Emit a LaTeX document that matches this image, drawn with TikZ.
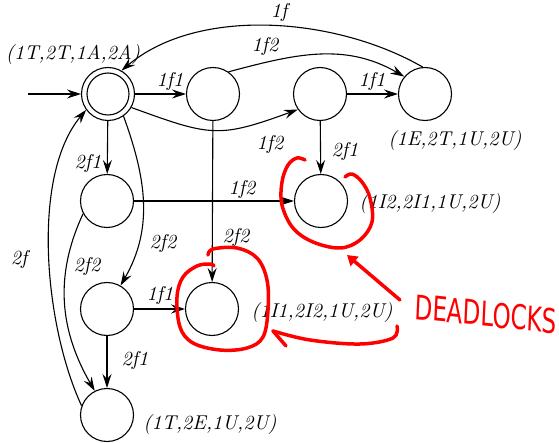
\documentclass[tikz,border=0pt]{standalone}
\usepackage{fontspec}
\newfontfamily\handfont{DejaVu Sans}
\usetikzlibrary{arrows.meta}
\begin{document}
\begin{tikzpicture}[x=1pt,y=1pt,
  st/.style={circle,draw,line width=1.1pt,minimum size=53pt,inner sep=0pt},
  edge/.style={line width=1.1pt,-{Stealth[length=14pt,width=9pt,inset=5pt]}},
  lbl/.style={font=\fontsize{10}{12}\selectfont\itshape,scale=2,inner sep=0pt},
  ink/.style={red,line width=3.5pt,line cap=round,line join=round}]
\useasboundingbox (0,0) rectangle (559,442);

% states
\node[st] (s0) at (108,348) {};
\draw[line width=1.1pt] (s0.center) circle[radius=21pt];
\node[st] (a) at (213,348) {};
\node[st] (b) at (320,348) {};
\node[st] (c) at (425,348) {};
\node[st] (e) at (107,241) {};
\node[st] (d) at (321,241) {};
\node[st] (f) at (107,133) {};
\node[st] (g) at (212,133) {};
\node[st] (h) at (107,27) {};

% state names
\node[lbl] (n0) at (73,387) {(1T,2T,1A,2A)};
\node[lbl] (nc) at (455,301) {(1E,2T,1U,2U)};
\node[lbl] (nd) at (430,238) {(1I2,2I1,1U,2U)};
\node[lbl] (ng) at (322,130) {(1I1,2I2,1U,2U)};
\node[lbl] (nh) at (210,18) {(1T,2E,1U,2U)};

% initial arrow
\coordinate (init) at (28,348);
\draw[edge] (init) -- (s0);

% transitions
\draw[edge] (s0) -- (a);
\draw[edge] (a.55) to[out=15,in=150] (c.140);
\draw[edge] (c.95) to[out=150,in=40,looseness=0.85] (s0.60);
\draw[edge] (s0.-30) to[out=-20,in=200,looseness=1.3] (b.215);
\draw[edge] (b) -- (c);
\draw[edge] (b) -- (d);
\draw[edge] (a) -- (g);
\draw[edge] (e) -- (d);
\draw[edge] (s0) -- (e);
\draw[edge] (s0.-55) to[out=-70,in=60] (f.60);
\draw[edge] (e.208) to[out=-115,in=120] (h.117);
\draw[edge] (h.160) to[out=115,in=230,looseness=0.75] (s0.216);
\draw[edge] (f) -- (g);
\draw[edge] (f) -- (h);

% transition labels
\node[lbl] (l1) at (170,360) {1f1};
\node[lbl] (l2) at (265,395) {1f2};
\node[lbl] (l3) at (279,429) {1f};
\node[lbl] (l4) at (270,297) {1f2};
\node[lbl] (l5) at (372,360) {1f1};
\node[lbl] (l6) at (345,290) {2f1};
\node[lbl] (l7) at (236,204) {2f2};
\node[lbl] (l8) at (242,252) {1f2};
\node[lbl] (l9) at (88,278) {2f1};
\node[lbl] (l10) at (163,198) {2f2};
\node[lbl] (l11) at (87,176) {2f2};
\node[lbl] (l12) at (19,182) {2f};
\node[lbl] (l13) at (160,147) {1f1};
\node[lbl] (l14) at (135,82) {2f1};

% red hand annotations
\draw[ink] plot[smooth,tension=0.6] coordinates {(305,282) (297,284) (288,277) (282,260) (282,237) (293,214) (313,200) (340,194) (360,202) (372,220) (370,244) (362,260) (352,268) (345,265)};
\draw[ink] plot[smooth,tension=0.6] coordinates {(208,187) (213,193) (237,194) (257,184) (267,162) (268,132) (263,105) (247,94) (220,92) (193,99) (180,115) (177,145) (183,165) (197,176) (210,178) (214,176)};
\coordinate (dlA) at (400,142);
\coordinate (dlB) at (347,187);
\draw[ink,-{Triangle[length=10pt,width=12pt]}] (dlA) -- (dlB);
\draw[ink] plot[smooth,tension=0.6] coordinates {(397,116) (393,104) (360,98) (310,102) (273,111)};
\coordinate (tipG) at (273,111);
\coordinate (barbG) at (286,96);
\draw[ink] (tipG) -- (barbG);
\node[red,font=\handfont\fontsize{34}{40}\selectfont,xscale=0.68,rotate=-4,inner sep=0pt] (dead) at (486,128) {DEADLOCKS};
\end{tikzpicture}
\end{document}
